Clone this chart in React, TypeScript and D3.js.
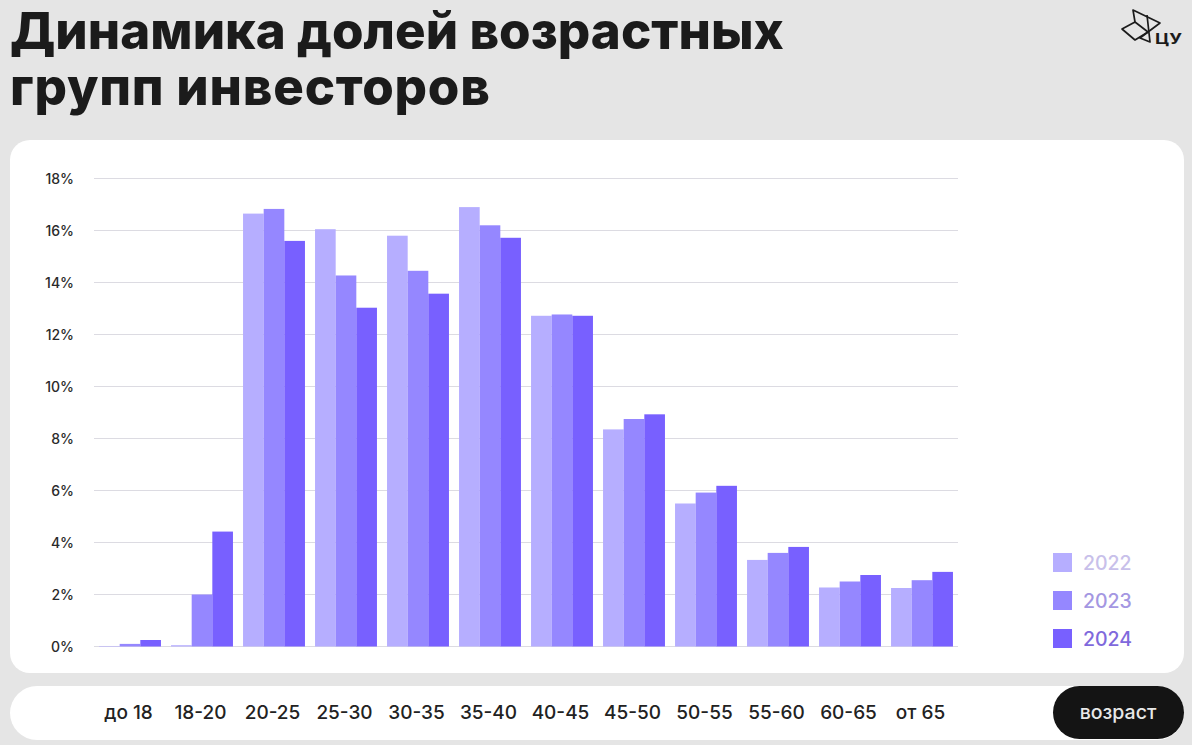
import React, { useEffect, useRef } from 'react';
import * as d3 from 'd3';

const ageGroups = ['до 18', '18-20', '20-25', '25-30', '30-35', '35-40', '40-45', '45-50', '50-55', '55-60', '60-65', 'от 65'];
const years = ['2022', '2023', '2024'];
const values2022 = [0.02, 0.05, 16.65, 16.05, 15.8, 16.9, 12.72, 8.35, 5.5, 3.33, 2.27, 2.25];
const values2023 = [0.1, 2.0, 16.83, 14.27, 14.45, 16.2, 12.77, 8.75, 5.92, 3.6, 2.5, 2.55];
const values2024 = [0.25, 4.42, 15.6, 13.03, 13.57, 15.72, 12.72, 8.93, 6.18, 3.83, 2.75, 2.87];
const yTicks = [0, 2, 4, 6, 8, 10, 12, 14, 16, 18];
const barColors = ['#b6aeff', '#9587ff', '#7860ff'];
const legendTextColors = ['#c8c0ea', '#a497e2', '#7f69dc'];
const titleLines = ['Динамика долей возрастных', 'групп инвесторов'];

const FONT = 'Inter, "Noto Sans", sans-serif';

const App: React.FC = () => {
  const svgRef = useRef<SVGSVGElement>(null);

  useEffect(() => {
    if (!svgRef.current) return;

    const svg = d3.select(svgRef.current);
    svg.selectAll('*').remove();

    // Background and cards
    svg.append('rect').attr('width', 1192).attr('height', 745).attr('fill', '#e5e5e5');
    svg.append('rect').attr('x', 10).attr('y', 140).attr('width', 1174).attr('height', 533).attr('rx', 20).attr('fill', '#fff');
    svg.append('rect').attr('x', 10).attr('y', 686).attr('width', 1174).attr('height', 54).attr('rx', 27).attr('fill', '#fff');

    // Title
    svg.append('g')
      .selectAll('text')
      .data(titleLines)
      .join('text')
      .attr('x', 10)
      .attr('y', (_, i) => 49 + i * 56)
      .attr('font-family', FONT)
      .attr('font-size', 51)
      .attr('font-weight', 800)
      .attr('letter-spacing', (_, i) => (i === 0 ? 0.05 : 0.8))
      .attr('fill', '#1b1b1b')
      .text(d => d);

    // Logo
    const logo = svg.append('g')
      .attr('fill', 'none')
      .attr('stroke', '#1b1b1b')
      .attr('stroke-width', 1.7)
      .attr('stroke-linejoin', 'round');
    logo.append('path').attr('d', 'M1122 29L1135 22L1148 32L1135 40Z');
    logo.append('path').attr('d', 'M1135 22L1133 10L1160 23L1148 32');
    logo.append('path').attr('d', 'M1147 15L1150 42L1140 38L1148 32');
    svg.append('text')
      .attr('x', 1155)
      .attr('y', 44)
      .attr('font-family', FONT)
      .attr('font-size', 14)
      .attr('font-weight', 700)
      .attr('textLength', 27)
      .attr('lengthAdjust', 'spacingAndGlyphs')
      .attr('fill', '#1b1b1b')
      .text('ЦУ');

    // Scales
    const x = d3.scaleBand<string>()
      .domain(ageGroups)
      .range([94, 958])
      .paddingInner(0.14)
      .paddingOuter(0.07);
    const xYear = d3.scaleBand<string>()
      .domain(years)
      .range([0, x.bandwidth()]);
    const y = d3.scaleLinear()
      .domain([0, 18])
      .range([646.5, 178.5]);

    // Grid and y labels
    svg.append('g')
      .selectAll('line')
      .data(yTicks)
      .join('line')
      .attr('x1', 94)
      .attr('x2', 958)
      .attr('y1', d => y(d))
      .attr('y2', d => y(d))
      .attr('stroke', '#dcdbe2')
      .attr('stroke-width', 1);

    svg.append('g')
      .selectAll('text')
      .data(yTicks)
      .join('text')
      .attr('x', 74)
      .attr('y', d => y(d))
      .attr('dy', '0.36em')
      .attr('text-anchor', 'end')
      .attr('font-family', FONT)
      .attr('font-size', 14)
      .attr('font-weight', 500)
      .attr('fill', '#2a2a2a')
      .text(d => `${d}%`);

    // Bars
    const series = [values2022, values2023, values2024];
    series.forEach((values, s) => {
      svg.append('g')
        .selectAll('rect')
        .data(values)
        .join('rect')
        .attr('x', (_, i) => x(ageGroups[i])! + xYear(years[s])!)
        .attr('y', d => y(d))
        .attr('width', xYear.bandwidth())
        .attr('height', d => y(0) - y(d))
        .attr('fill', barColors[s]);
    });

    // Category labels in the bottom pill
    svg.append('g')
      .selectAll('text')
      .data(ageGroups)
      .join('text')
      .attr('x', d => x(d)! + x.bandwidth() / 2 - 1.5)
      .attr('y', 719)
      .attr('text-anchor', 'middle')
      .attr('font-family', FONT)
      .attr('font-size', 19)
      .attr('font-weight', 500)
      .attr('fill', '#222')
      .text(d => d);

    // Axis name
    svg.append('rect').attr('x', 1053).attr('y', 686).attr('width', 131).attr('height', 53).attr('rx', 26.5).attr('fill', '#141414');
    svg.append('text')
      .attr('x', 1118)
      .attr('y', 719)
      .attr('text-anchor', 'middle')
      .attr('font-family', FONT)
      .attr('font-size', 19.5)
      .attr('font-weight', 500)
      .attr('fill', '#e8e8e8')
      .text('возраст');

    // Legend
    const legendY = d3.scalePoint<string>().domain(years).range([562.5, 638.5]);
    const legend = svg.append('g')
      .selectAll('g')
      .data(years)
      .join('g')
      .attr('transform', d => `translate(1053,${legendY(d)})`);
    legend.append('rect')
      .attr('y', -9.5)
      .attr('width', 19)
      .attr('height', 19)
      .attr('fill', (_, i) => barColors[i]);
    legend.append('text')
      .attr('x', 30)
      .attr('dy', '0.36em')
      .attr('font-family', FONT)
      .attr('font-size', 19.5)
      .attr('font-weight', 500)
      .attr('fill', (_, i) => legendTextColors[i])
      .text(d => d);
  }, []);

  return (
    <svg
      ref={svgRef}
      width={1192}
      height={745}
      style={{ position: 'absolute', left: 0, top: 0, display: 'block' }}
    />
  );
};

export default App;
